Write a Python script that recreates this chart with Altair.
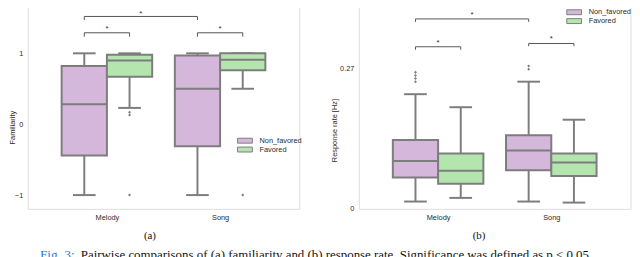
import altair as alt
import pandas as pd

# ---------------- data ----------------
conditions = ["Melody", "Song"]
groups = ["Non_favored", "Favored"]

# Familiarity box stats: whislo, q1, median, q3, whishi  (order: Melody-Non, Melody-Fav, Song-Non, Song-Fav)
fam_whislo = [-1.0, 0.23, -1.0, 0.50]
fam_q1 = [-0.44, 0.67, -0.31, 0.76]
fam_med = [0.28, 0.90, 0.50, 0.91]
fam_q3 = [0.82, 0.98, 0.97, 1.00]
fam_whishi = [1.0, 1.0, 1.0, 1.0]
fam_outliers = [[], [0.17, 0.13, -1.0], [], [-1.0]]

# Response rate box stats
rr_whislo = [0.014, 0.021, 0.014, 0.012]
rr_q1 = [0.060, 0.048, 0.074, 0.063]
rr_med = [0.092, 0.073, 0.112, 0.089]
rr_q3 = [0.132, 0.106, 0.141, 0.106]
rr_whishi = [0.220, 0.195, 0.244, 0.171]
rr_outliers = [[0.244, 0.250, 0.256, 0.262], [], [0.268, 0.274], []]

# significance brackets: (cond_a, group_a, cond_b, group_b, level, tip, star)
fam_brackets = [
    ("Melody", "Non_favored", "Song", "Non_favored", 1.52, 1.47, 1.53),
    ("Melody", "Non_favored", "Melody", "Favored", 1.29, 1.235, 1.319),
    ("Song", "Non_favored", "Song", "Favored", 1.29, 1.235, 1.319),
]
rr_brackets = [
    ("Melody", "Non_favored", "Song", "Non_favored", 0.3644, 0.3588, 0.3685),
    ("Melody", "Non_favored", "Melody", "Favored", 0.311, 0.3053, 0.3153),
    ("Song", "Non_favored", "Song", "Favored", 0.3172, 0.3121, 0.3229),
]

fam_ticks = [-1, 0, 1]
rr_ticks = [0, 0.27]
fam_domain = [-1.194, 1.708]
rr_domain = [0.0, 0.3947]

caption_fig = "Fig. 3:"
caption_text = "Pairwise comparisons of (a) familiarity and (b) response rate. Significance was defined as p < 0.05."

# ---------------- style ----------------
PURPLE = "#D4B7DB"
GREEN = "#B5E5AE"
EDGE = "#7d7d7d"
BG = "#EAEAF2"
TXT = "#2b2b2b"
SANS = "Liberation Sans"
SERIF = "Liberation Serif"
HALF = 0.2   # half box width in category units
W, H = 276, 209


def pos(cond, grp):
    return conditions.index(cond) + (-HALF if grp == groups[0] else HALF)


def build_frames(whislo, q1, med, q3, whishi, outliers, brackets):
    rows, outs = [], []
    k = 0
    for c in conditions:
        for g in groups:
            p = pos(c, g)
            rows.append(dict(cond=c, group=g, p=p, left=p - HALF, right=p + HALF,
                             capl=p - HALF / 2, capr=p + HALF / 2,
                             whislo=whislo[k], q1=q1[k], med=med[k], q3=q3[k], whishi=whishi[k]))
            for o in outliers[k]:
                outs.append(dict(cond=c, group=g, p=p, v=o))
            k += 1
    br = []
    for (ca, ga, cb, gb, lvl, tip, star) in brackets:
        a, b = pos(ca, ga), pos(cb, gb)
        br.append(dict(a=a, b=b, mid=(a + b) / 2, lvl=lvl, tip=tip, star=star, s="*"))
    return pd.DataFrame(rows), pd.DataFrame(outs, columns=["cond", "group", "p", "v"]), pd.DataFrame(br)


label_expr = "[" + ",".join("'%s'" % c for c in conditions) + "][datum.value]"


def panel(whislo, q1, med, q3, whishi, outliers, brackets, domain, ticks, ytitle,
          title_x, title_y, fmt, legend_x, legend_y, sub_label, sub_x):
    box, outs, br = build_frames(whislo, q1, med, q3, whishi, outliers, brackets)
    xs = alt.Scale(domain=[-0.7, 1.7], nice=False, zero=False)
    ys = alt.Scale(domain=domain, nice=False, zero=False)
    xaxis = alt.Axis(values=[0, 1], labelExpr=label_expr, title=None, ticks=False, domain=False,
                     grid=False, labelFont=SANS, labelFontSize=7.5, labelColor=TXT, labelPadding=5)
    yaxis = alt.Axis(values=ticks, format=fmt, title=ytitle, ticks=False, domain=False, grid=False,
                     labelFont=SANS, labelFontSize=7.5, labelColor=TXT, labelPadding=5,
                     titleFont=SANS, titleFontSize=7.5, titleFontWeight="normal", titleColor=TXT,
                     titleX=title_x, titleY=title_y, titleBaseline="middle", titleAlign="center")
    base = alt.Chart(box)
    whisk_lo = base.mark_rule(color=EDGE, strokeWidth=2).encode(
        x=alt.X("p:Q", scale=xs, axis=xaxis), y=alt.Y("whislo:Q", scale=ys, axis=yaxis), y2="q1:Q")
    whisk_hi = base.mark_rule(color=EDGE, strokeWidth=2).encode(x="p:Q", y="q3:Q", y2="whishi:Q")
    cap_lo = base.mark_rule(color=EDGE, strokeWidth=2).encode(x="capl:Q", x2="capr:Q", y="whislo:Q")
    cap_hi = base.mark_rule(color=EDGE, strokeWidth=2).encode(x="capl:Q", x2="capr:Q", y="whishi:Q")
    rect = base.mark_rect(stroke=EDGE, strokeWidth=2).encode(
        x="left:Q", x2="right:Q", y="q1:Q", y2="q3:Q",
        fill=alt.Fill("group:N", scale=alt.Scale(domain=groups, range=[PURPLE, GREEN]),
                      legend=alt.Legend(title=None, orient="none", legendX=legend_x, legendY=legend_y,
                                        symbolType="M-3,-1H3V1H-3Z", symbolSize=25,
                                        symbolStrokeColor=EDGE, symbolStrokeWidth=1,
                                        symbolOpacity=1, labelFont=SANS, labelFontSize=7.5,
                                        labelColor=TXT, labelOffset=11, rowPadding=-1.5, padding=0)))
    median = base.mark_rule(color=EDGE, strokeWidth=2).encode(x="left:Q", x2="right:Q", y="med:Q")
    fl = alt.Chart(outs).mark_point(shape="diamond", filled=True, color=EDGE, size=9, opacity=1).encode(
        x="p:Q", y="v:Q")
    bb = alt.Chart(br)
    bh = bb.mark_rule(color="#555555", strokeWidth=1).encode(x="a:Q", x2="b:Q", y="lvl:Q")
    bl = bb.mark_rule(color="#555555", strokeWidth=1).encode(x="a:Q", y="tip:Q", y2="lvl:Q")
    br_ = bb.mark_rule(color="#555555", strokeWidth=1).encode(x="b:Q", y="tip:Q", y2="lvl:Q")
    st = bb.mark_text(font=SANS, fontSize=8, color=TXT, baseline="alphabetic").encode(
        x="mid:Q", y="star:Q", text="s:N")
    sub = alt.Chart(pd.DataFrame({"t": [sub_label]})).mark_text(
        font=SERIF, fontSize=11, color="#111111", baseline="middle").encode(
        text="t:N", x=alt.value(sub_x), y=alt.value(237))
    return alt.layer(whisk_lo, whisk_hi, cap_lo, cap_hi, rect, median, fl, bh, bl, br_, st, sub).properties(
        width=W, height=H)


left = panel(fam_whislo, fam_q1, fam_med, fam_q3, fam_whishi, fam_outliers, fam_brackets,
             fam_domain, fam_ticks, "Familiarity", -15.5, 126, "d", 217, 136, "(a)", 124.25)
cap1 = alt.Chart(pd.DataFrame({"t": [caption_fig]})).mark_text(
    font=SERIF, fontSize=13.5, color="#2a7bd6", align="left", baseline="alphabetic").encode(
    text="t:N", x=alt.value(12.5), y=alt.value(259.5))
cap2 = alt.Chart(pd.DataFrame({"t": [caption_text]})).mark_text(
    font=SERIF, fontSize=13.1, color="#111111", align="left", baseline="alphabetic").encode(
    text="t:N", x=alt.value(54), y=alt.value(259.5))
left = alt.layer(left, cap1, cap2)

right = panel(rr_whislo, rr_q1, rr_med, rr_q3, rr_whishi, rr_outliers, rr_brackets,
              rr_domain, rr_ticks, "Response rate [Hz]", -25, 129, "~g", 215, 5.5, "(b)", 122)

chart = alt.hconcat(left, right, spacing=60.5, bounds="flush").resolve_scale(
    fill="independent").resolve_legend(fill="independent").properties(
    padding={"left": 0, "top": -8, "right": 0, "bottom": 0}
).configure_view(fill=BG, strokeOpacity=0).configure(background="white")

chart.save("out.html", embed_options={"renderer": "svg", "actions": False})
